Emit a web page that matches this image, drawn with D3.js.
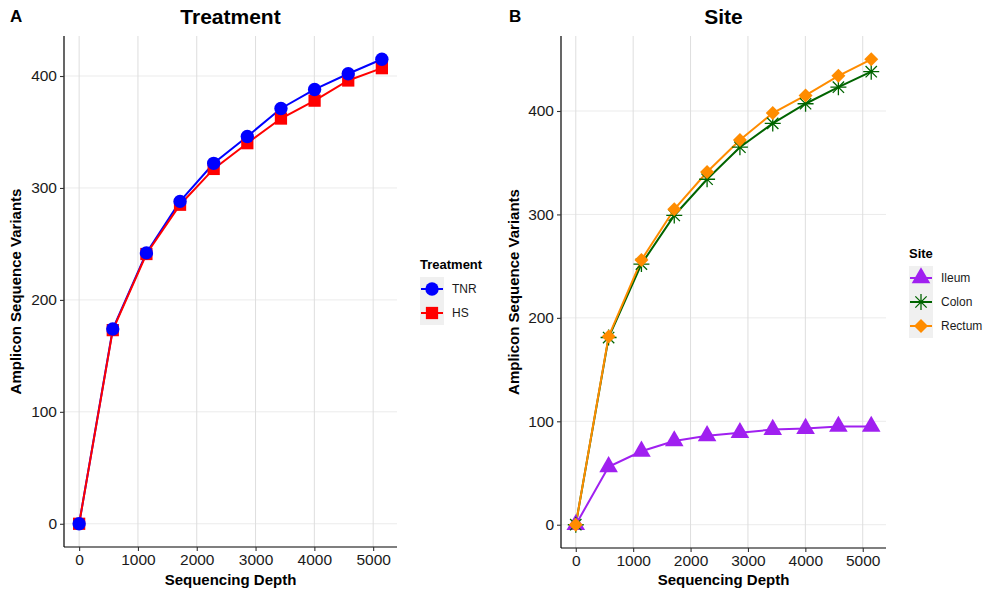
<!DOCTYPE html>
<html>
<head>
<meta charset="utf-8">
<script src="https://cdn.jsdelivr.net/npm/d3@7"></script>
<style>
  body { margin: 0; background: #fff; }
  svg text { font-family: "Liberation Sans", Arial, sans-serif; }
</style>
</head>
<body>
<svg id="chart" width="986" height="594"></svg>
<script>
// Sequencing depth steps (x)
const depth = [0, 572, 1144, 1716, 2288, 2860, 3432, 4004, 4576, 5148];

// Panel A: Treatment
const tnr = [0, 174, 242, 288, 322, 346, 371, 388, 402, 415];
const hs = [0, 173, 241, 285, 317, 340, 362, 378, 396, 407];

// Panel B: Site
const ileum = [0, 56, 71, 81, 86, 89, 92, 93, 95, 95];
const colon = [0, 181, 252, 299, 334, 365, 388, 407, 423, 438];
const rectum = [0, 182, 256, 305, 341, 372, 398, 415, 434, 450];

const xTicks = [0, 1000, 2000, 3000, 4000, 5000];
const yTicks = [0, 100, 200, 300, 400];


// ggplot-ish point shapes
function shapePath(shape) {
  if (shape === 'circle') return d3.symbol(d3.symbolCircle, 140)();
  if (shape === 'square') return d3.symbol(d3.symbolSquare, 150)();
  if (shape === 'triangle') return d3.symbol(d3.symbolTriangle, 150)();
  if (shape === 'diamond') {
    const r = 7;
    return `M0,${-r}L${r},0L0,${r}L${-r},0Z`;
  }
  if (shape === 'asterisk') {
    const r = 8, q = r * Math.SQRT1_2;
    return `M${-r},0L${r},0M0,${-r}L0,${r}` +
      `M${-q},${-q}L${q},${q}M${-q},${q}L${q},${-q}`;
  }
}

function drawPoint(selection, s) {
  const stroked = s.shape === 'asterisk';
  selection.append('path')
      .attr('d', shapePath(s.shape))
      .attr('fill', stroked ? 'none' : s.color)
      .attr('stroke', stroked ? s.color : 'none')
      .attr('stroke-width', stroked ? 1.3 : 0);
}


function expand(lo, hi) {
  const pad = (hi - lo) * 0.05;
  return [lo - pad, hi + pad];
}


function drawPanel(svg, cfg) {
  const b = cfg.box;
  const ymax = d3.max(cfg.series, s => d3.max(s.values));
  const x = d3.scaleLinear()
      .domain(expand(d3.min(depth), d3.max(depth)))
      .range([b.left, b.right]);
  const y = d3.scaleLinear()
      .domain(expand(0, ymax))
      .range([b.bottom, b.top]);

  const g = svg.append('g').attr('class', 'panel');

  // grid
  g.append('g').selectAll('line')
    .data(yTicks.filter(t => y(t) > b.top))
    .enter().append('line')
      .attr('x1', b.left).attr('x2', b.right)
      .attr('y1', d => y(d)).attr('y2', d => y(d))
      .attr('stroke', '#ebebeb').attr('stroke-width', 1);
  g.append('g').selectAll('line')
    .data(xTicks)
    .enter().append('line')
      .attr('x1', d => x(d)).attr('x2', d => x(d))
      .attr('y1', b.top).attr('y2', b.bottom)
      .attr('stroke', '#dedede').attr('stroke-width', 1);

  // lines
  const line = d3.line()
      .x((d, i) => x(depth[i]))
      .y(d => y(d));
  cfg.series.forEach(s => {
    g.append('path')
        .datum(s.values)
        .attr('d', line)
        .attr('fill', 'none')
        .attr('stroke', s.color)
        .attr('stroke-width', 2);
  });

  // points
  cfg.pointOrder.forEach(idx => {
    const s = cfg.series[idx];
    g.append('g').selectAll('g')
      .data(s.values)
      .enter().append('g')
        .attr('transform', (d, i) => `translate(${x(depth[i])},${y(d)})`)
        .each(function () { d3.select(this).call(drawPoint, s); });
  });

  // axes
  const fmt = d3.format('d');
  const xAxis = g.append('g')
      .attr('transform', `translate(0,${b.bottom})`)
      .call(d3.axisBottom(x).tickValues(xTicks).tickFormat(fmt)
        .tickSize(4).tickPadding(3));
  const yAxis = g.append('g')
      .attr('transform', `translate(${b.left},0)`)
      .call(d3.axisLeft(y).tickValues(yTicks.filter(t => y(t) > b.top))
        .tickFormat(fmt).tickSize(4).tickPadding(3));
  [xAxis, yAxis].forEach(a => {
    a.select('.domain').attr('stroke', '#000').attr('stroke-width', 1.2);
    a.selectAll('.tick line').attr('stroke', '#333').attr('stroke-width', 1.1);
    a.selectAll('.tick text')
        .attr('fill', '#1a1a1a')
        .style('font-size', '15.5px');
  });
  xAxis.select('.domain').attr('d', `M${b.left},0H${b.right}`);
  yAxis.select('.domain').attr('d', `M0,${b.top}V${b.bottom}`);

  // titles
  const cx = (b.left + b.right) / 2;
  svg.append('text')
      .attr('x', cx).attr('y', 24)
      .attr('text-anchor', 'middle')
      .style('font-size', '21px').style('font-weight', 'bold')
      .text(cfg.title);
  svg.append('text')
      .attr('x', cfg.tagX).attr('y', 22)
      .style('font-size', '17px').style('font-weight', 'bold')
      .text(cfg.tag);
  svg.append('text')
      .attr('x', cx).attr('y', 585)
      .attr('text-anchor', 'middle')
      .style('font-size', '15px').style('font-weight', 'bold')
      .text('Sequencing Depth');
  svg.append('text')
      .attr('transform', `translate(${cfg.yTitleX},${(b.top + b.bottom) / 2}) rotate(-90)`)
      .attr('text-anchor', 'middle')
      .style('font-size', '15px').style('font-weight', 'bold')
      .text('Amplicon Sequence Variants');

  // legend
  const L = cfg.legend;
  const leg = svg.append('g')
      .attr('transform', `translate(${L.x},${L.y})`);
  leg.append('text')
      .attr('x', 0).attr('y', 0)
      .style('font-size', '13px').style('font-weight', 'bold')
      .text(cfg.legendTitle);
  const keyH = 24;
  leg.append('rect')
      .attr('x', 0).attr('y', 8)
      .attr('width', 24).attr('height', keyH * cfg.series.length)
      .attr('fill', '#f0f0f0');
  cfg.series.forEach((s, i) => {
    const k = leg.append('g')
        .attr('transform', `translate(12,${8 + keyH * i + keyH / 2})`);
    k.append('line')
        .attr('x1', -11).attr('x2', 11)
        .attr('stroke', s.color).attr('stroke-width', 2);
    k.call(drawPoint, s);
    leg.append('text')
        .attr('x', 32).attr('y', 8 + keyH * i + keyH / 2)
        .attr('dy', '0.35em')
        .style('font-size', '12px')
        .attr('fill', '#1a1a1a')
        .text(s.name);
  });
}


const svg = d3.select('#chart');

drawPanel(svg, {
  title: 'Treatment', tag: 'A', tagX: 10, yTitleX: 21,
  box: {left: 64, right: 397, top: 36, bottom: 547},
  series: [
    {name: 'TNR', values: tnr, color: '#0000ff', shape: 'circle'},
    {name: 'HS', values: hs, color: '#ff0000', shape: 'square'}
  ],
  pointOrder: [1, 0],
  legendTitle: 'Treatment',
  legend: {x: 420, y: 269}
});

drawPanel(svg, {
  title: 'Site', tag: 'B', tagX: 509, yTitleX: 519,
  box: {left: 561, right: 886, top: 36, bottom: 548},
  series: [
    {name: 'Ileum', values: ileum, color: '#a020f0', shape: 'triangle'},
    {name: 'Colon', values: colon, color: '#006400', shape: 'asterisk'},
    {name: 'Rectum', values: rectum, color: '#ff8c00', shape: 'diamond'}
  ],
  pointOrder: [0, 1, 2],
  legendTitle: 'Site',
  legend: {x: 909, y: 258}
});
</script>
</body>
</html>
